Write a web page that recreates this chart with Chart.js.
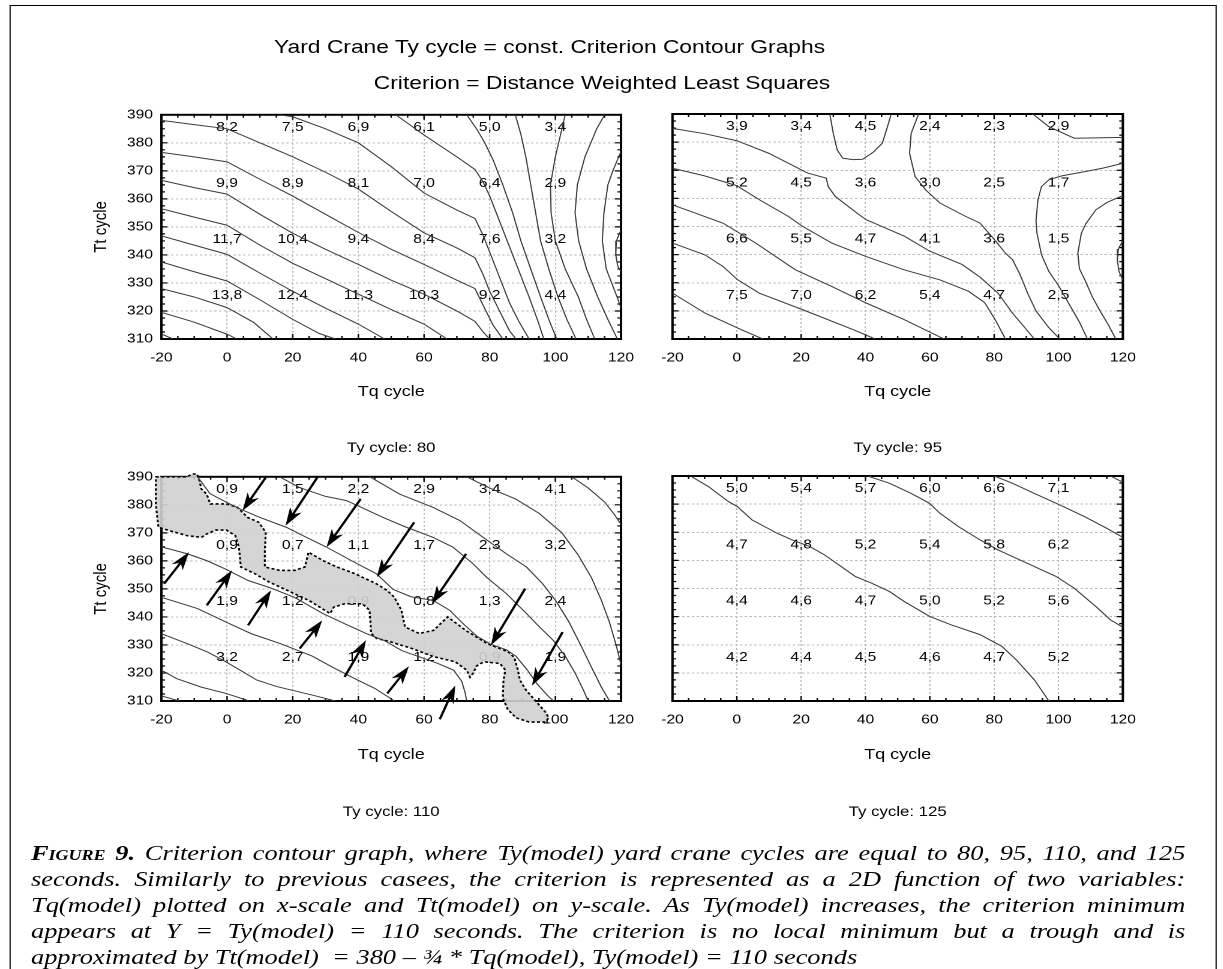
<!DOCTYPE html>
<html>
<head>
<meta charset="utf-8">
<title>Criterion Contour Graphs</title>
<script src="https://cdn.jsdelivr.net/npm/chart.js@4.4.1/dist/chart.umd.min.js"></script>
<style>
  html, body { margin: 0; padding: 0; background: #fff; }
  body { width: 1223px; height: 969px; overflow: hidden; }
  /* the original figure is stretched horizontally, so the whole page is drawn narrow and widened */
  #page { position: absolute; left: 0; top: 0; width: 1019.2px; height: 969px; transform: scaleX(1.2); transform-origin: 0 0;
          font-family: "Liberation Sans", Arial, sans-serif; color: #000; }
  #frame { position: absolute; left: 7.5px; top: 5px; width: 1006px; height: 990px; border: 1.5px solid #000; box-sizing: border-box; }
  .title { position: absolute; font-size: 19px; line-height: 22px; white-space: nowrap; transform: translateX(-50%); }
  canvas { position: absolute; }
  #caption { position: absolute; left: 25.8px; top: 840px; width: 962px; font-family: "Liberation Serif", "Times New Roman", serif;
             font-style: italic; font-size: 22px; line-height: 26px; }
  #caption div { text-align: justify; text-align-last: justify; }
  #caption div.last { text-align-last: left; }
  .fig { font-weight: bold; font-variant: small-caps; }
</style>
</head>
<body>
<div id="page">
  <div id="frame"></div>
  <div class="title" style="left:458px; top:36px;">Yard Crane Ty cycle = const. Criterion Contour Graphs</div>
  <div class="title" style="left:501.7px; top:72px;">Criterion = Distance Weighted Least Squares</div>

  <canvas id="c80" width="480" height="370" style="left:60px; top:100px;"></canvas>
  <canvas id="c95" width="420" height="370" style="left:540px; top:100px;"></canvas>
  <canvas id="c110" width="480" height="370" style="left:60px; top:462px;"></canvas>
  <canvas id="c125" width="420" height="370" style="left:540px; top:462px;"></canvas>

  <div id="caption">
    <div><span class="fig">Figure 9.</span> Criterion contour graph, where Ty(model) yard crane cycles are equal to 80, 95, 110, and 125</div>
    <div>seconds. Similarly to previous casees, the criterion is represented as a 2D function of two variables:</div>
    <div>Tq(model) plotted on x-scale and Tt(model) on y-scale. As Ty(model) increases, the criterion minimum</div>
    <div>appears at Y = Ty(model) = 110 seconds. The criterion is no local minimum but a trough and is</div>
    <div class="last">approximated by Tt(model)&nbsp; = 380 – ¾ * Tq(model), Ty(model) = 110 seconds</div>
  </div>
</div>

<script>
// grid nodes where the criterion values are printed
const tqNodes = [0, 20, 40, 60, 80, 100];
const ttNodes = [385, 365, 345, 325];

// criterion values, one row per Tt node (top to bottom)
const values80 = [
  [8.2, 7.5, 6.9, 6.1, 5.0, 3.4],
  [9.9, 8.9, 8.1, 7.0, 6.4, 2.9],
  [11.7, 10.4, 9.4, 8.4, 7.6, 3.2],
  [13.8, 12.4, 11.3, 10.3, 9.2, 4.4]
];
const values95 = [
  [3.9, 3.4, 4.5, 2.4, 2.3, 2.9],
  [5.2, 4.5, 3.6, 3.0, 2.5, 1.7],
  [6.6, 5.5, 4.7, 4.1, 3.6, 1.5],
  [7.5, 7.0, 6.2, 5.4, 4.7, 2.5]
];
const values110 = [
  [0.9, 1.5, 2.2, 2.9, 3.4, 4.1],
  [0.9, 0.7, 1.1, 1.7, 2.3, 3.2],
  [1.9, 1.2, 0.9, 0.8, 1.3, 2.4],
  [3.2, 2.7, 1.9, 1.2, 0.9, 1.9]
];
const values125 = [
  [5.0, 5.4, 5.7, 6.0, 6.6, 7.1],
  [4.7, 4.8, 5.2, 5.4, 5.8, 6.2],
  [4.4, 4.6, 4.7, 5.0, 5.2, 5.6],
  [4.2, 4.4, 4.5, 4.6, 4.7, 5.2]
];

// contour lines, [Tq, Tt] pairs
const contours80 = [
  [[-20,311.8],[-16.5,310]],
  [[-20,319.5],[-10,316],[0,311.7],[3,310]],
  [[-20,328],[-10,325],[0,321.2],[8,316],[14,310]],
  [[-20,337.5],[-10,334],[0,330.7],[10,324],[20,317],[28,312],[33,310]],
  [[-20,346.8],[-10,343.5],[0,340.2],[10,333.5],[20,327],[30,321],[40,315.3],[48,310]],
  [[-20,356.5],[-10,353.5],[0,350.6],[10,343.5],[20,337],[30,331.5],[40,326],[50,320.5],[60,315.3],[67,310]],
  [[-20,366.6],[-10,364],[0,361.7],[10,354.5],[20,347.7],[30,342],[40,336.6],[50,331],[60,326],[70,320],[75.5,316.3],[78,312.5],[80,310]],
  [[-20,376.6],[-10,375],[0,373.2],[10,367],[20,361],[30,354.5],[40,348],[50,342],[60,336.6],[70,331],[75.5,328],[78,322],[81,315],[84,310]],
  [[-20,388],[-10,386.5],[0,385],[10,380],[20,375],[30,369.5],[40,363.5],[50,355.5],[60,347.9],[70,342.5],[75.5,339],[78,333],[80,327],[83,320],[86,313],[88,310]],
  [[16,390],[20,389.3],[30,385],[40,380],[50,371.5],[60,362.1],[70,356],[75.5,353],[78,347],[80,341],[83,332],[86,323],[89,316],[92,310]],
  [[51.4,390],[60,382.8],[70,375],[75.5,370.5],[78,366],[80,361],[83,352],[86,343],[89,334],[92,325],[94.5,317],[96.5,310]],
  [[73,390],[76,385],[78.5,380],[81,374],[84,365],[87,355],[89.5,345],[92.5,335],[95.5,325],[98,317],[100.4,310]],
  [[87.8,390],[89.5,383],[91,375],[92.5,365],[94,355],[95.5,345],[98,335],[100.8,325],[103.5,317],[106.3,310]],
  [[103,390],[102,385],[100,375],[98.5,365],[98.7,355],[100,345],[103,335],[107,325],[109.5,317],[112,310]],
  [[115,390],[112.6,385],[109,375],[106.7,365],[106,355],[107.1,345],[109.5,335],[112.9,325],[116,317],[118.9,310]],
  [[120,377],[117.5,370],[116,365],[114.8,355],[114.3,345],[115.5,335],[118.8,325],[120,321]],
  [[120,349],[118.6,345],[118.4,340],[119,336],[120,334]]
];

const contours95 = [
  [[-20,326.3],[-9.9,319.2],[1.4,313.3],[8.1,310]],
  [[-20,344.1],[-9.9,339.9],[-4.3,335.8],[0.2,331.1],[7,326.3],[20.5,320.4],[36.2,313.3],[43,310]],
  [[-20,357.7],[-4.3,351.2],[5.9,344.1],[18.2,334.6],[29.5,328.7],[40.2,322.8],[52,316.9],[64.4,310]],
  [[-20,370.7],[-10,368],[0,364.5],[7,359.5],[16,353.6],[20.5,350],[29.5,344.1],[40.2,339.3],[52,334.6],[63.2,331],[72,327],[77,323],[80.5,316.5],[83.5,310]],
  [[-20,384.9],[-10,383],[0,380.5],[10,376],[16,372.5],[22,369],[27.8,367.2],[28.4,364.2],[30.6,360.7],[37.4,354.7],[40.2,352.4],[52,346.6],[60,341.2],[70,336.5],[75.6,332],[81.2,326.3],[85.7,319.2],[92.5,310]],
  [[28.9,390],[30,383],[31.2,377.2],[32.9,374.3],[36,373.8],[39.1,373.9],[42.5,376.5],[45.2,379.6],[46.7,385],[48,390]],
  [[56.5,390],[54.2,383.1],[53.7,376],[55.4,367.8],[58.7,363],[63.2,358.3],[71.1,353.6],[75.6,351.2],[80.1,345.3],[83.5,340.5],[85.7,338.2],[88,333],[90.5,326],[93,320],[97,314],[100.4,310]],
  [[92,390],[97,385.5],[104.9,381.4],[112,381.5],[120,381.7]],
  [[120,372.5],[114,370.8],[108.2,369.5],[101,368],[97,366.6],[94.7,364.2],[93.6,359.5],[93,352],[93.3,347.6],[94.7,340],[97,334],[100,329],[103.5,322],[106.5,316],[109,310]],
  [[120,361],[115,358.5],[111.6,355.9],[108.5,351],[107.1,347.6],[106,340.5],[106.5,335],[108.2,331],[110.5,325],[112.7,320.4],[115.5,315],[117.8,310]],
  [[120,345],[118.6,342],[118.3,338],[118.8,334],[120,331]]
];

const contours110 = [
  [[-9,390],[-5.2,384],[0,380.8],[4,378.5],[10,375.5],[18,372],[24,368.5],[30.3,364.9],[38,360],[45.5,355.4],[50.6,349.8],[56,347.2],[62.7,345.9],[67.8,342.4],[72,337.5],[76,333.2],[80.4,330.2],[85,328.3],[88,326],[91.5,321],[94.5,316],[98,311.5],[99.5,310]],
  [[16,390],[22,386.2],[30,383],[36.4,381.5],[42,378.5],[47.5,375.5],[54.6,372],[62.7,368.4],[68.8,364.9],[74.9,359],[79,354.2],[85.1,348.3],[91.2,341.2],[95.2,336.4],[99.3,331.7],[103,326],[106,320],[108.5,314],[110,310]],
  [[43.5,390],[52.6,383.8],[62.7,379.1],[70.9,374.4],[78,368.4],[85.1,362.5],[91.2,357.8],[96,352],[100,346],[104,338.5],[107.5,330.5],[111,322],[114,315],[116.5,310]],
  [[73,390],[80,386],[88,382],[95,377],[102,370],[107,362],[111,354],[114,346],[116.5,338],[118.5,330],[120,323]],
  [[105,390],[110,386],[115,381],[118,376.5],[120,373]],
  [[-20,365],[-12,362.5],[-6,360],[0,356.8],[6.4,353],[12.9,350.5],[20.5,347],[29.2,341.2],[35.8,337.6],[42.3,334.1],[48,331.5],[53.2,328],[58,326],[64,323.5],[69,321],[71.5,317],[72.5,313],[73,310]],
  [[-20,347],[-9,343],[0.9,337.5],[7.4,334],[16.2,330.5],[26,326],[31.4,322.5],[38,318.5],[45,314.5],[51,310]],
  [[-20,334],[-12.2,330.5],[-6,327.5],[-1.3,324.6],[4,321],[9,317.5],[15,315.2],[21,313.5],[27,311.8],[33,310]],
  [[-20,321],[-15.4,318],[-8,315],[-0.3,312.7],[6.8,310]],
  [[-20,311.8],[-14.5,310]]
];

const contours125 = [
  [[-14.4,390],[-8.8,386.2],[-2.6,380.9],[0.2,379.1],[4.7,374.4],[12.6,369.6],[17.1,367.3],[22.7,364.9],[27.2,362],[31.7,358.4],[36.8,354.3],[41.9,351.9],[47.5,348.9],[52,345.4],[59.9,340.1],[66.6,337.1],[75.6,333.6],[82.4,329.4],[86.9,324.6],[92.5,317.5],[97,310]],
  [[40.7,390],[47.5,387.4],[54.2,383.8],[59.9,380.3],[63.2,376.7],[68.9,372],[75.6,367.3],[81.2,363.7],[90.2,359],[99.2,354.3],[104.9,350.1],[111.6,343.6],[116.1,338.9],[120,336.2]],
  [[80.1,390],[85.7,387.4],[92.5,383.8],[100.4,379.7],[108.2,375.5],[115,371.4],[120,368.2]],
  [[116.1,390],[120,387.8]]
];

// shaded trough for Ty = 110 (outline, [Tq, Tt])
const trough110 = [
  [-21.7,390],[-12.2,390],[-10.6,391],[-9.2,391],[-8.5,389],[-7.8,385.6],[-6.2,383.8],[-5.1,380.3],[-0.2,380.3],[3.1,379.1],
  [6.3,375.5],[9.6,373.8],[11.8,370.2],[11.5,363.7],[11.5,357.8],[16.1,356.6],[20.5,356.6],[23.7,357.8],[24.8,363.1],[29.2,360.1],
  [33.5,357.8],[39,355.4],[45.5,351.8],[48.7,349.5],[50.9,347.1],[53.1,342.4],[54.2,336.4],[58.5,334.1],[62.9,335.2],[67.2,340],
  [72.7,335.2],[79.2,330.5],[85.7,327.5],[87.5,325.5],[88.6,321],[89.2,317.5],[91,314],[94,310],[97,306],[98,304],
  [97,302.5],[92,302.5],[88,304],[85.5,307],[84,311],[84.2,317.5],[84.8,321],[83.1,323.4],[78.2,324],[76,322.5],
  [75,320],[74,318.5],[73,321],[69.5,324],[63,325.8],[56.4,328.7],[49.9,331.1],[45.6,332.3],[43.9,334.1],[43.4,342.4],
  [41.2,344.7],[35.8,344.7],[32.5,343.5],[31.4,341.2],[24.9,345.9],[18.3,349.5],[12.9,352.4],[8.5,355.4],[4.2,357.8],[3.6,364.9],
  [2.5,369],[-0.2,371],[-3.4,371],[-6.2,369.6],[-7.8,368.4],[-12.2,369],[-17.6,370.8],[-20.9,372],[-21.7,380]
];

// arrows pointing at the trough: [tailTq, tailTt, headTq, headTt]
const arrows110 = [
  [11.8,389.8, 4.7,377.9],
  [27.5,389.8, 17.8,372.6],
  [40.7,382.1, 30.3,364.9],
  [57.0,373.8, 45.6,354.2],
  [72.8,362.5, 62.4,344.7],
  [90.8,350.1, 80.4,329.9],
  [102.2,334.6, 92.9,315.5],
  [-19.2,351.8, -11.6,363.1],
  [-6.2,344.1, 1.5,356.6],
  [6.4,337.0, 13.4,349.5],
  [22.1,328.7, 29.0,338.8],
  [35.8,318.6, 42.3,331.7],
  [48.8,312.7, 55.4,322.4],
  [64.8,303.5, 69.5,315.5]
];

Chart.defaults.font.family = '"Liberation Sans", Arial, sans-serif';
Chart.defaults.color = '#000';

const fmt = v => v.toFixed(1).replace('.', ',');

// frame with inward ticks, value labels, trough and arrows
function overlay(cfg) {
  return {
    id: 'overlay',
    beforeDatasetsDraw(chart) {
      const {ctx, chartArea: a, scales: {x, y}} = chart;
      ctx.save();

      ctx.strokeStyle = '#000';
      ctx.lineWidth = 1.2;
      ctx.beginPath();
      for (let v = -20; v <= 120; v += 5) {
        const px = x.getPixelForValue(v), len = v % 20 === 0 ? 5 : 3;
        ctx.moveTo(px, a.top); ctx.lineTo(px, a.top + len);
        ctx.moveTo(px, a.bottom); ctx.lineTo(px, a.bottom - len);
      }
      for (let v = 310; v <= 390; v += 2.5) {
        const py = y.getPixelForValue(v), len = (v - 310) % 10 === 0 ? 5 : 3;
        ctx.moveTo(a.left, py); ctx.lineTo(a.left + len, py);
        ctx.moveTo(a.right, py); ctx.lineTo(a.right - len, py);
      }
      ctx.stroke();
      ctx.lineWidth = 2;
      ctx.strokeRect(a.left, a.top, a.right - a.left, a.bottom - a.top);

      ctx.font = '13px "Liberation Sans", Arial, sans-serif';
      ctx.fillStyle = '#000';
      ctx.textAlign = 'center';
      ctx.textBaseline = 'middle';
      cfg.values.forEach((row, j) => row.forEach((v, i) => {
        ctx.fillText(fmt(v), x.getPixelForValue(tqNodes[i]), y.getPixelForValue(ttNodes[j]) - 1.5);
      }));

      if (cfg.trough) {
        ctx.beginPath();
        cfg.trough.forEach(([tq, tt], k) => {
          const px = x.getPixelForValue(tq), py = y.getPixelForValue(tt);
          if (k) ctx.lineTo(px, py); else ctx.moveTo(px, py);
        });
        ctx.closePath();
        ctx.fillStyle = 'rgba(208,208,208,0.9)';
        ctx.fill();
        ctx.setLineDash([2.5, 2]);
        ctx.lineWidth = 1.6;
        ctx.strokeStyle = '#000';
        ctx.stroke();
      }
      ctx.restore();
    },
    afterDatasetsDraw(chart) {
      if (!cfg.arrows) return;
      const {ctx, scales: {x, y}} = chart;
      ctx.save();
      ctx.strokeStyle = '#000';
      ctx.fillStyle = '#000';
      ctx.lineWidth = 2;
      cfg.arrows.forEach(([x0, y0, x1, y1]) => {
        const ax = x.getPixelForValue(x0), ay = y.getPixelForValue(y0);
        const bx = x.getPixelForValue(x1), by = y.getPixelForValue(y1);
        const ang = Math.atan2(by - ay, bx - ax), c = Math.cos(ang), s = Math.sin(ang);
        const L = 18, W = 5.5;
        ctx.beginPath();
        ctx.moveTo(ax, ay);
        ctx.lineTo(bx - c * L * 0.6, by - s * L * 0.6);
        ctx.stroke();
        ctx.beginPath();
        ctx.moveTo(bx, by);
        ctx.lineTo(bx - c * L - s * W, by - s * L + c * W);
        ctx.lineTo(bx - c * L * 0.7, by - s * L * 0.7);
        ctx.lineTo(bx - c * L + s * W, by - s * L - c * W);
        ctx.closePath();
        ctx.fill();
      });
      ctx.restore();
    }
  };
}

function makeChart(id, cfg) {
  const gridOpts = { color: '#b8b8b8', lineWidth: 1, drawTicks: false };
  const borderOpts = { display: false, dash: [2, 2] };
  return new Chart(document.getElementById(id), {
    type: 'scatter',
    data: {
      datasets: cfg.lines.map(line => ({
        data: line.map(([x, y]) => ({ x, y })),
        showLine: true,
        borderColor: '#3a3a3a',
        borderWidth: 1,
        pointRadius: 0,
        pointHoverRadius: 0,
        tension: 0
      }))
    },
    options: {
      responsive: false,
      animation: false,
      devicePixelRatio: 2,
      events: [],
      layout: { padding: { top: 14, right: cfg.padRight, left: 0, bottom: 0 } },
      plugins: {
        legend: { display: false },
        tooltip: { enabled: false },
        title: {
          display: true, text: cfg.title, position: 'bottom', fullSize: false,
          color: '#000', font: { size: 14, weight: 'normal' },
          padding: { top: cfg.titleTop, bottom: 61 - cfg.titleTop - 16.8 }
        }
      },
      scales: {
        x: {
          type: 'linear', min: -20, max: 120,
          afterFit: s => { s.height = 70; },
          ticks: { stepSize: 20, font: { size: 13 }, color: '#000', padding: 11 },
          grid: gridOpts, border: borderOpts,
          title: { display: true, text: 'Tq cycle', color: '#000', font: { size: 15 }, padding: { top: 0, bottom: cfg.xTitleBottom } }
        },
        y: {
          type: 'linear', min: 310, max: 390,
          afterFit: s => { s.width = cfg.axisWidth; },
          ticks: { stepSize: 10, display: cfg.showY, font: { size: 13 }, color: '#000', padding: 7 },
          grid: gridOpts, border: borderOpts,
          title: { display: cfg.showY, text: 'Tt cycle', color: '#000', font: { size: 15 }, padding: { top: 15.6, bottom: 0 } }
        }
      }
    },
    plugins: [overlay(cfg)]
  });
}

makeChart('c80',  { lines: contours80,  values: values80,  title: 'Ty cycle: 80',  showY: true,  axisWidth: 74.5, padRight: 22.5, titleTop: 30.9, xTitleBottom: 8.3 });
makeChart('c95',  { lines: contours95,  values: values95,  title: 'Ty cycle: 95',  showY: false, axisWidth: 12.4, padRight: 24.3, titleTop: 30.9, xTitleBottom: 8.3 });
makeChart('c110', { lines: contours110, values: values110, title: 'Ty cycle: 110', showY: true,  axisWidth: 74.5, padRight: 22.5, titleTop: 32.9, xTitleBottom: 7,
                    trough: trough110, arrows: arrows110 });
makeChart('c125', { lines: contours125, values: values125, title: 'Ty cycle: 125', showY: false, axisWidth: 12.4, padRight: 24.3, titleTop: 32.9, xTitleBottom: 7 });
</script>
</body>
</html>
